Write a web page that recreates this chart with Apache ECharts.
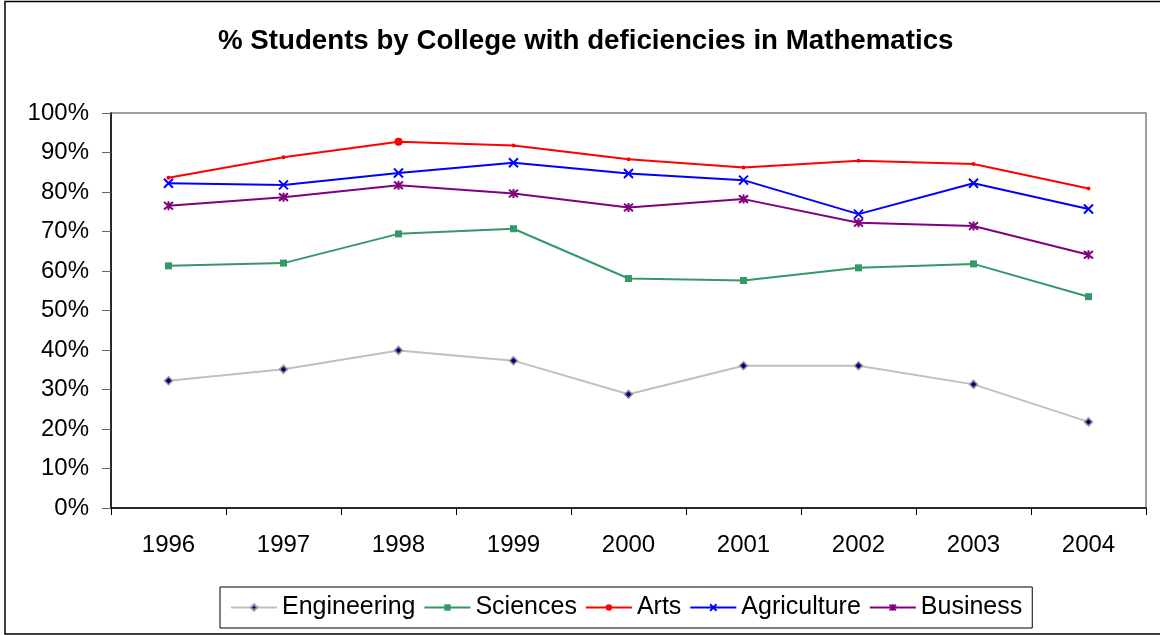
<!DOCTYPE html>
<html>
<head>
<meta charset="utf-8">
<script src="https://cdn.jsdelivr.net/npm/echarts@6/dist/echarts.min.js"></script>
<style>
  html, body { margin: 0; padding: 0; background: #fff; }
  #chart { width: 1160px; height: 635px; }
</style>
</head>
<body>
<div id="chart"></div>
<script>
// 年份
var years = ['1996', '1997', '1998', '1999', '2000', '2001', '2002', '2003', '2004'];

// 各学院数学不足学生比例 (%)
var engineering = [32.2, 35.1, 39.9, 37.3, 28.8, 36.0, 36.0, 31.3, 21.8];
var sciences = [61.3, 62.0, 69.4, 70.7, 58.1, 57.6, 60.8, 61.8, 53.5];
var arts = [83.6, 88.8, 92.7, 91.8, 88.3, 86.2, 87.9, 87.1, 80.9];
var agriculture = [82.2, 81.8, 84.8, 87.4, 84.7, 83.0, 74.4, 82.2, 75.7];
var business = [76.5, 78.7, 81.7, 79.6, 76.1, 78.2, 72.2, 71.4, 64.1];

var yTicks = [0, 10, 20, 30, 40, 50, 60, 70, 80, 90, 100];

var FONT = 'Liberation Sans, Arial, sans-serif';
var artsBigPoint = 2; // 1998 点比较大

var chart = echarts.init(document.getElementById('chart'), null, {renderer: 'canvas'});

var crossPath = 'path://M0,0L10,10M10,0L0,10';
var starPath = 'path://M0,0L10,10M10,0L0,10M5,-1L5,11';

chart.setOption({
    animation: false,
    backgroundColor: '#fff',
    title: {
        text: '% Students by College with deficiencies in Mathematics',
        left: 218,
        top: 27,
        padding: 0,
        textStyle: {
            fontFamily: FONT,
            fontSize: 27.7,
            fontWeight: 'bold',
            color: '#000'
        }
    },
    graphic: [{
        type: 'rect',
        shape: {x: 5, y: 1.5, width: 1170, height: 632.5},
        style: {fill: 'none', stroke: '#000', lineWidth: 1.5},
        silent: true,
        z: 0
    }],
    legend: {
        left: 220,
        top: 587,
        orient: 'horizontal',
        padding: [8, 10, 8, 10],
        borderColor: '#000',
        borderWidth: 1,
        itemWidth: 46,
        itemHeight: 8,
        itemGap: 8,
        textStyle: {
            fontFamily: FONT,
            fontSize: 25,
            color: '#000'
        },
        data: ['Engineering', 'Sciences', 'Arts', 'Agriculture', 'Business']
    },
    grid: {
        left: 111,
        right: 14,
        top: 113,
        bottom: 127,
        show: true,
        borderColor: '#808080',
        borderWidth: 1.5,
        backgroundColor: '#fff'
    },
    xAxis: {
        type: 'category',
        data: years,
        boundaryGap: true,
        axisLine: {show: true, lineStyle: {color: '#000', width: 1.5}},
        axisTick: {show: true, length: 7, lineStyle: {color: '#000', width: 1}},
        axisLabel: {
            margin: 25,
            fontFamily: FONT,
            fontSize: 24,
            color: '#000'
        },
        splitLine: {show: false}
    },
    yAxis: {
        type: 'value',
        min: 0,
        max: 100,
        interval: 10,
        axisLine: {show: true, lineStyle: {color: '#000', width: 1.5}},
        axisTick: {show: true, length: 9, lineStyle: {color: '#666', width: 1}},
        axisLabel: {
            margin: 22,
            fontFamily: FONT,
            fontSize: 24,
            color: '#000',
            formatter: function (v) { return yTicks.indexOf(v) >= 0 ? v + '%' : ''; }
        },
        splitLine: {show: false}
    },
    series: [
        {
            name: 'Engineering',
            type: 'line',
            data: engineering,
            symbol: 'diamond',
            symbolSize: 8,
            lineStyle: {color: '#C0C0C0', width: 2},
            itemStyle: {color: '#000080', borderColor: '#999', borderWidth: 1.5}
        },
        {
            name: 'Sciences',
            type: 'line',
            data: sciences,
            symbol: 'rect',
            symbolSize: 7,
            lineStyle: {color: '#339966', width: 2},
            itemStyle: {color: '#339966'}
        },
        {
            name: 'Arts',
            type: 'line',
            data: arts.map(function (v, i) {
                return i === artsBigPoint ? {value: v, symbolSize: 8} : v;
            }),
            symbol: 'circle',
            symbolSize: 4,
            lineStyle: {color: '#FF0000', width: 2},
            itemStyle: {color: '#FF0000'}
        },
        {
            name: 'Agriculture',
            type: 'line',
            data: agriculture,
            symbol: crossPath,
            symbolSize: 9,
            lineStyle: {color: '#0000FF', width: 2},
            itemStyle: {color: 'none', borderColor: '#0000FF', borderWidth: 2}
        },
        {
            name: 'Business',
            type: 'line',
            data: business,
            symbol: starPath,
            symbolSize: 9,
            lineStyle: {color: '#800080', width: 2},
            itemStyle: {color: 'none', borderColor: '#800080', borderWidth: 2}
        }
    ]
});

window.addEventListener('resize', function () {
    chart.resize();
});
</script>
</body>
</html>
